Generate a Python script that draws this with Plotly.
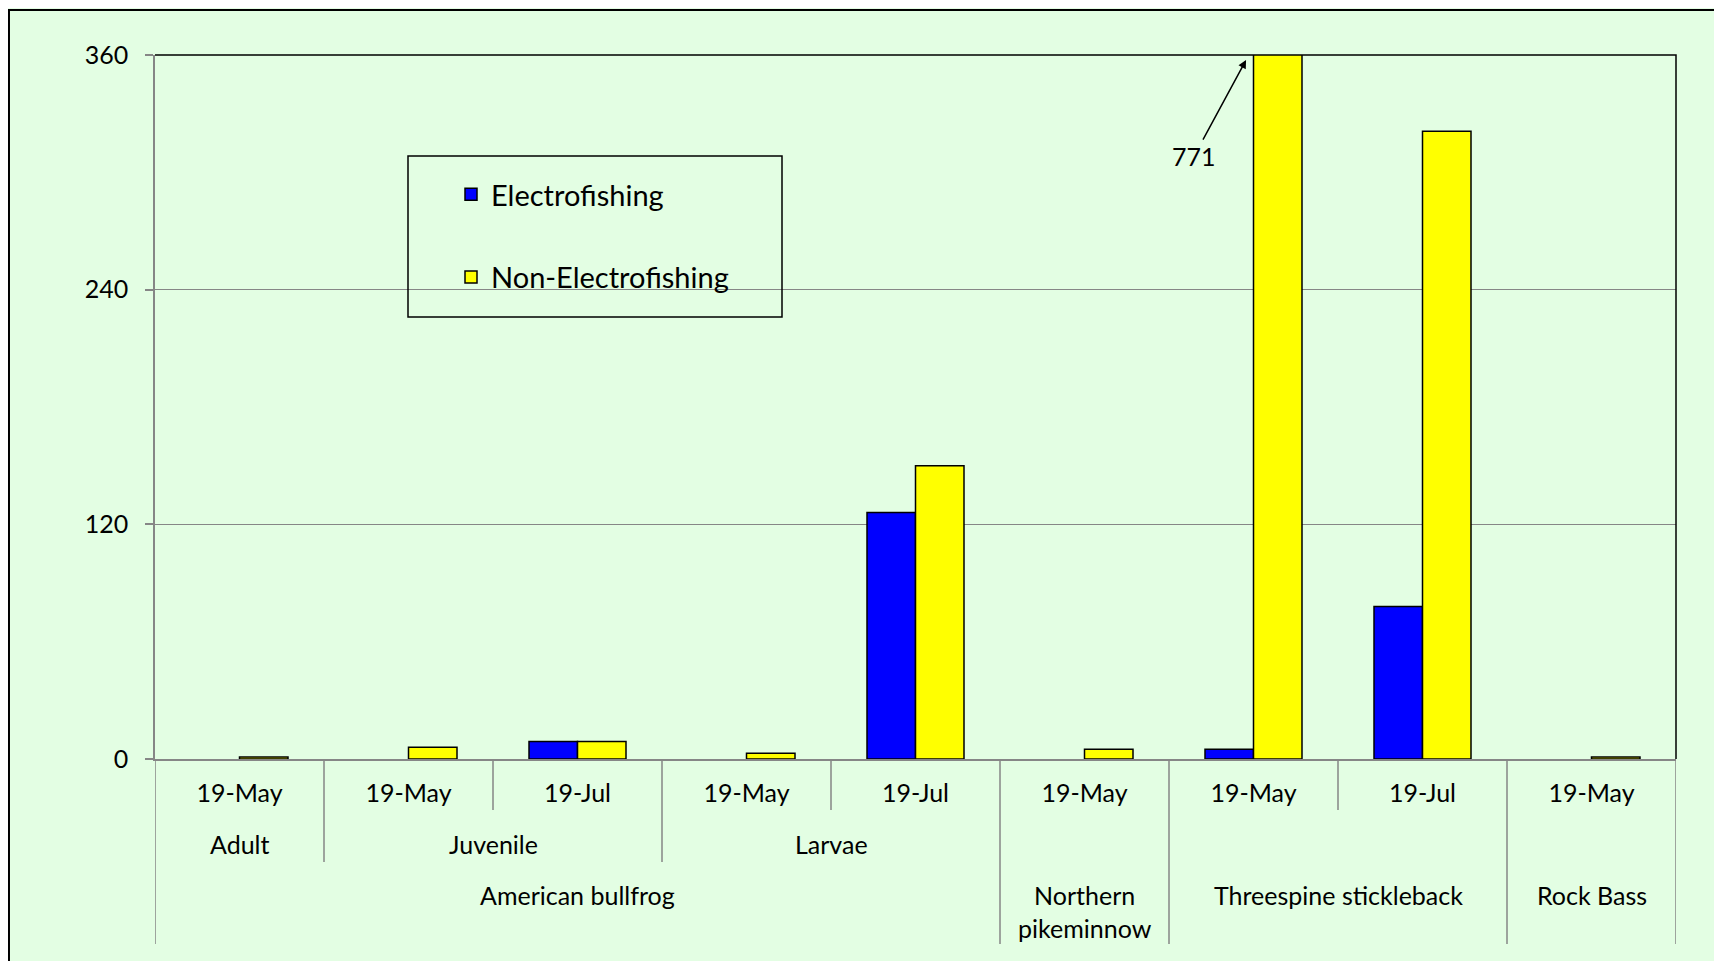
import plotly.graph_objects as go

# leaf categories (left to right)
species = ["American bullfrog"] * 5 + ["Northern<br>pikeminnow", "Threespine stickleback",
                                       "Threespine stickleback", "Rock Bass"]
stages = ["Adult", "Juvenile", "Juvenile", "Larvae", "Larvae", "", "", "", ""]
dates = ["19-May", "19-May", "19-Jul", "19-May", "19-Jul", "19-May", "19-May", "19-Jul", "19-May"]

electro = [0, 0, 9, 0, 126, 0, 5, 78, 0]
non_electro = [1, 6, 9, 3, 150, 5, 771, 321, 1]

yticks = [0, 120, 240, 360]

bg = "#E3FEE3"
grey = "#868686"
font = "Lato"

x = list(range(len(dates)))

fig = go.Figure()
# zero counts draw nothing (like the original), so hide them
fig.add_trace(go.Bar(x=x, y=[v if v else None for v in electro], name="Electrofishing",
                     legendgroup="a",
                     marker=dict(color="#0000FF", line=dict(color="black", width=1.5))))
fig.add_trace(go.Bar(x=x, y=[v if v else None for v in non_electro], name="Non-Electrofishing",
                     legendgroup="b",
                     marker=dict(color="#FFFF00", line=dict(color="black", width=1.5))))

# y at paper units for the label rows under the axis (screen px of the reference)
def py(px):
    return (759 - px) / 704

shapes = []
# dividers between categories, depth depends on which label rows change
for k in range(len(dates) + 1):
    if k in (0, len(dates)) or species[k - 1] != species[k]:
        y1 = py(944)
    elif stages[k - 1] != stages[k]:
        y1 = py(862)
    else:
        y1 = py(810)
    shapes.append(dict(type="line", xref="x", yref="paper", x0=k - 0.5, x1=k - 0.5,
                       y0=0, y1=y1, line=dict(color=grey, width=1.5)))

# black top / right frame of the plot area
shapes.append(dict(type="path", xref="paper", yref="paper", path="M0,1 L1,1 L1,0",
                   line=dict(color="black", width=1.5)))
# outer chart border (left and top visible)
shapes.append(dict(type="path", xref="paper", yref="paper",
                   path="M-0.0960,-0.4 L-0.0960,%.4f L1.2,%.4f" % (py(10), py(10)),
                   line=dict(color="black", width=2)))
# legend frame
shapes.append(dict(type="rect", xref="paper", yref="paper",
                   x0=(408 - 155) / 1521, x1=(782 - 155) / 1521, y0=py(317), y1=py(156),
                   line=dict(color="black", width=1.5), fillcolor="rgba(0,0,0,0)"))

annotations = []
# second row: stage labels
seen = []
for s in stages:
    if s and s not in seen:
        seen.append(s)
        idx = [i for i, v in enumerate(stages) if v == s]
        annotations.append(dict(x=sum(idx) / len(idx), y=py(844), xref="x", yref="paper",
                                yanchor="middle", text=s, showarrow=False,
                                font=dict(size=25)))
# third row: species labels
seen = []
for s in species:
    if s not in seen:
        seen.append(s)
        idx = [i for i, v in enumerate(species) if v == s]
        yy = py(911) if "<br>" in s else py(895)
        annotations.append(dict(x=sum(idx) / len(idx), y=yy, xref="x", yref="paper",
                                yanchor="middle", text=s, showarrow=False,
                                font=dict(size=25)))

# off-scale value callout
annotations.append(dict(x=5.956, y=357.4, xref="x", yref="y", text=str(non_electro[6]),
                        showarrow=True, arrowhead=2, arrowsize=1.1, arrowwidth=1.5,
                        arrowcolor="black", ax=-52, ay=96, font=dict(size=25)))

fig.update_layout(
    width=1722, height=961,
    margin=dict(l=147, r=54, t=47, b=210),
    paper_bgcolor=bg, plot_bgcolor=bg,
    font=dict(family=font, size=25, color="black"),
    barmode="group", bargap=0.426, bargroupgap=0,
    showlegend=True,
    legend=dict(x=(451 - 155) / 1521, y=py(169), xanchor="left", yanchor="top",
                bgcolor="rgba(0,0,0,0)", borderwidth=0, font=dict(size=29),
                tracegroupgap=42),
    xaxis=dict(range=[-0.5, len(dates) - 0.5], tickvals=x, ticktext=dates,
               ticks="", showgrid=False, zeroline=False, showline=True,
               linecolor=grey, linewidth=1.5, ticklabelstandoff=11, fixedrange=True),
    yaxis=dict(range=[0, 360], tickvals=yticks, showgrid=True, gridcolor=grey,
               gridwidth=1.2, zeroline=False, showline=True, linecolor=grey, linewidth=1.5,
               ticks="outside", ticklen=8, tickcolor=grey, tickwidth=1.5,
               ticklabelstandoff=12),
    shapes=shapes, annotations=annotations,
)

fig.write_html("out.html")
